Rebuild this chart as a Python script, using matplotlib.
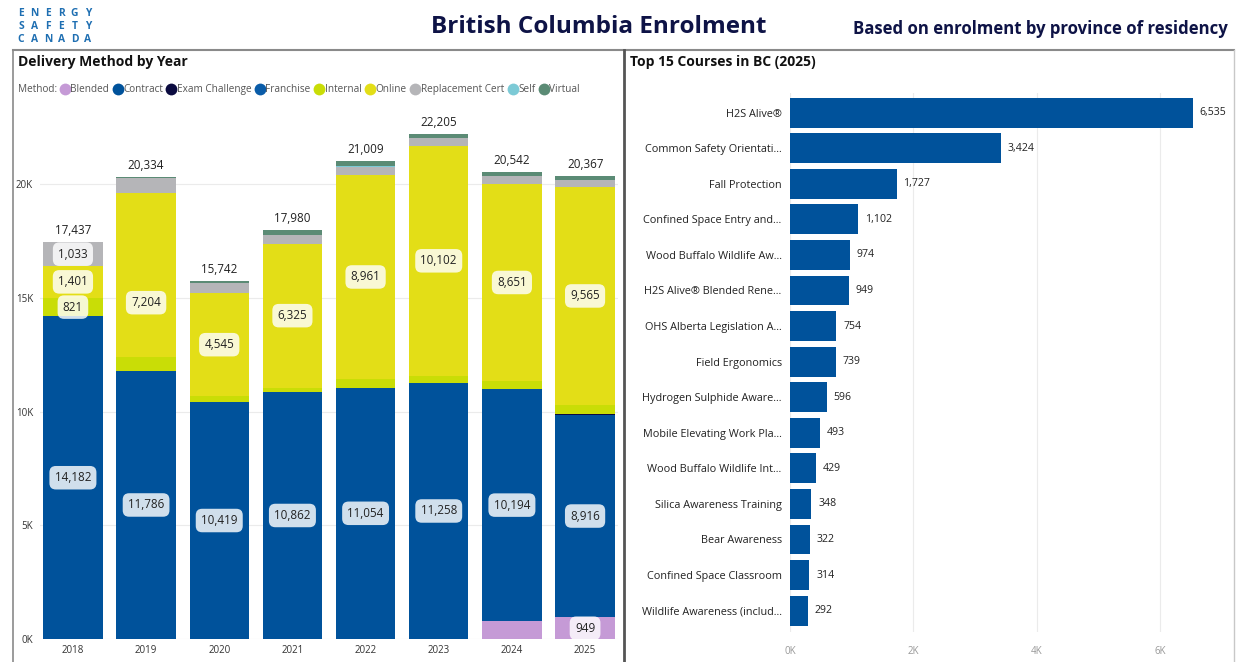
import numpy as np
import matplotlib.pyplot as plt
from matplotlib.lines import Line2D
from matplotlib.ticker import FuncFormatter

# ---- data: delivery method by year ----
years = ["2018", "2019", "2020", "2021", "2022", "2023", "2024", "2025"]
blended = [0, 0, 0, 0, 0, 0, 790, 949]
contract = [14182, 11786, 10419, 10862, 11054, 11258, 10194, 8916]
exam_challenge = [0, 0, 0, 0, 0, 0, 0, 40]
franchise = [0, 0, 0, 0, 0, 0, 0, 0]
internal = [821, 600, 250, 193, 384, 320, 367, 397]
online = [1401, 7204, 4545, 6325, 8961, 10102, 8651, 9565]
replacement_cert = [1033, 700, 420, 400, 350, 350, 365, 310]
self_paced = [0, 0, 0, 0, 40, 0, 0, 0]
virtual = [0, 44, 108, 200, 220, 175, 175, 190]
totals = [17437, 20334, 15742, 17980, 21009, 22205, 20542, 20367]

# ---- data: top 15 courses ----
courses = [
    "H2S Alive®",
    "Common Safety Orientati...",
    "Fall Protection",
    "Confined Space Entry and...",
    "Wood Buffalo Wildlife Aw...",
    "H2S Alive® Blended Rene...",
    "OHS Alberta Legislation A...",
    "Field Ergonomics",
    "Hydrogen Sulphide Aware...",
    "Mobile Elevating Work Pla...",
    "Wood Buffalo Wildlife Int...",
    "Silica Awareness Training",
    "Bear Awareness",
    "Confined Space Classroom",
    "Wildlife Awareness (includ...",
]
course_counts = [6535, 3424, 1727, 1102, 974, 949, 754, 739, 596, 493, 429, 348, 322, 314, 292]

series = [
    ("Blended", blended, "#C59AD6", True),
    ("Contract", contract, "#00529B", True),
    ("Exam Challenge", exam_challenge, "#0B0B40", False),
    ("Franchise", franchise, "#0A5CA8", False),
    ("Internal", internal, "#C9DD06", False),
    ("Online", online, "#E3DE17", True),
    ("Replacement Cert", replacement_cert, "#B5B5B8", False),
    ("Self", self_paced, "#7CCAD6", False),
    ("Virtual", virtual, "#5B8B75", False),
]
# extra segments that carry a label in the reference
extra_labels = {("Internal", 0), ("Replacement Cert", 0)}
# label nudges seen in the reference (data units)
label_shift = {("Online", 1): -1200}

plt.rcParams["font.family"] = ["Open Sans", "DejaVu Sans"]
W, H = 1236, 662
fig = plt.figure(figsize=(W / 100, H / 100), dpi=100)
renderer = fig.canvas.get_renderer()


def fx(px):
    return px / W


def fy(py):
    return 1 - py / H


# ---- header ----
for i, word in enumerate(["ENERGY", "SAFETY", "CANADA"]):
    for k, ch in enumerate(word):
        fig.text(fx(21 + k * 13.4), fy(13 + i * 13.5), ch, fontsize=7.4,
                 fontweight="bold", color="#1F6FB2", va="center", ha="center")
fig.text(fx(599), fy(27), "British Columbia Enrolment", fontsize=17.5,
         fontweight="bold", color="#0E1346", ha="center", va="center")
fig.text(fx(1228), fy(29), "Based on enrolment by province of residency",
         fontsize=12.1, fontweight="bold", color="#0E1346", ha="right", va="center")

# panel borders
fig.add_artist(Line2D([fx(13), fx(1234)], [fy(50), fy(50)], color="#8A8A8A", lw=1.5))
fig.add_artist(Line2D([fx(13), fx(13)], [fy(50), fy(662)], color="#8A8A8A", lw=1.2))
fig.add_artist(Line2D([fx(623.5), fx(623.5)], [fy(50), fy(662)], color="#555555", lw=2))
fig.add_artist(Line2D([fx(1234), fx(1234)], [fy(50), fy(662)], color="#C8C8C8", lw=1))

fig.text(fx(18), fy(62), "Delivery Method by Year", fontsize=10, fontweight="bold",
         color="#111111", ha="left", va="center")
fig.text(fx(630), fy(62), "Top 15 Courses in BC (2025)", fontsize=10, fontweight="bold",
         color="#111111", ha="left", va="center")

# ---- legend row, laid out by hand so all labels share one baseline ----
leg_y = 89
cursor = 18
t = fig.text(fx(cursor), fy(leg_y + 3), "Method:", fontsize=7.2, color="#555555",
             ha="left", va="baseline")
cursor += t.get_window_extent(renderer).width + 3
for name, vals, color, labelled in series:
    fig.add_artist(Line2D([fx(cursor + 4.5)], [fy(leg_y)], ls="none", marker="o",
                          markersize=8.5, markerfacecolor=color, markeredgecolor="none"))
    t = fig.text(fx(cursor + 10), fy(leg_y + 3), name, fontsize=7.2, color="#555555",
                 ha="left", va="baseline")
    cursor += 10 + t.get_window_extent(renderer).width + 4

# ---- left: stacked bars ----
ax = fig.add_axes([fx(40), fy(639), fx(578), (639 - 100) / H])
x = np.arange(len(years))
bottom = np.zeros(len(years))
box = dict(boxstyle="round,pad=0.45,rounding_size=0.55", fc="white", ec="none", alpha=0.82)
for name, vals, color, labelled in series:
    vals = np.array(vals, dtype=float)
    ax.bar(x, vals, bottom=bottom, width=0.81, color=color, zorder=2)
    for i, v in enumerate(vals):
        show = (labelled and v > 0 and not (name == "Blended" and i == 6)) or (name, i) in extra_labels
        if show:
            ypos = bottom[i] + v / 2 + label_shift.get((name, i), 0)
            ax.text(x[i], ypos, f"{int(v):,}", ha="center", va="center",
                    fontsize=8.4, color="#222222", bbox=box, zorder=3)
    bottom += vals
for i, tot in enumerate(totals):
    ax.text(x[i], tot + 220, f"{tot:,}", ha="center", va="bottom", fontsize=8.4, color="#222222")

ax.set_xlim(-0.45, 7.45)
ax.set_ylim(0, 23700)
ax.set_xticks(x)
ax.set_xticklabels(years)
ax.set_yticks([0, 5000, 10000, 15000, 20000])
ax.yaxis.set_major_formatter(FuncFormatter(lambda v, p: f"{int(v / 1000)}K"))
ax.tick_params(length=0, labelsize=7, colors="#333333", pad=4)
ax.tick_params(axis="y", pad=5)
ax.grid(axis="y", color="#EBEBEB", lw=0.8, zorder=0)
for s in ax.spines.values():
    s.set_visible(False)

# ---- right: top courses ----
ax2 = fig.add_axes([fx(790), fy(632), fx(440), 539 / H])
y = np.arange(len(courses))
ax2.barh(y, course_counts, height=0.84, color="#00529B", zorder=2)
for i, v in enumerate(course_counts):
    ax2.text(v + 110, y[i], f"{v:,}", va="center", ha="left", fontsize=7.6, color="#222222")
ax2.set_ylim(14.6, -0.55)
ax2.set_xlim(0, 7135)
ax2.set_yticks(y)
ax2.set_yticklabels(courses)
ax2.set_xticks([0, 2000, 4000, 6000])
ax2.xaxis.set_major_formatter(FuncFormatter(lambda v, p: f"{int(v / 1000)}K"))
ax2.tick_params(axis="y", length=0, labelsize=7.8, colors="#222222", pad=6)
ax2.tick_params(axis="x", length=0, labelsize=7, colors="#999999", pad=10)
ax2.grid(axis="x", color="#EBEBEB", lw=0.8, zorder=0)
for s in ax2.spines.values():
    s.set_visible(False)

fig.savefig("out.png", dpi=100)
